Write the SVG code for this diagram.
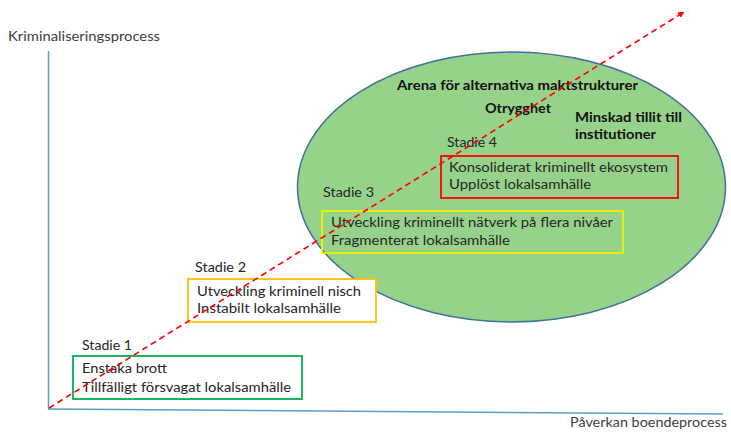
<svg xmlns="http://www.w3.org/2000/svg" width="731" height="432" viewBox="0 0 731 432">
  <style>
    text { font-family: Lato, "Liberation Sans", sans-serif; fill: #262626; }
    .lbl { font-size: 13.5px; }
    .axl { font-size: 13px; fill: #404040; }
    .bold { font-size: 12.5px; font-weight: bold; fill: #111; }
    .axis { stroke: #5B9BD5; stroke-width: 1.5; fill: none; }
    .box { stroke-width: 1.8; }
  </style>
  <defs>
    <marker id="arrow" viewBox="0 0 10 10" refX="9" refY="5" markerWidth="4" markerHeight="4" orient="auto">
      <path d="M0,0 L10,5 L0,10 z" fill="#FF0000"/>
    </marker>
  </defs>

  <g id="axes">
    <line class="axis" x1="48.5" y1="51" x2="48.5" y2="409"/>
    <line class="axis" x1="48" y1="409" x2="723" y2="414"/>
    <text class="axl" x="8" y="41" textLength="152" lengthAdjust="spacingAndGlyphs">Kriminaliseringsprocess</text>
    <text class="axl" x="570" y="427" textLength="157" lengthAdjust="spacingAndGlyphs">Påverkan boendeprocess</text>
  </g>

  <g id="arena">
    <ellipse cx="511.5" cy="187" rx="214" ry="135" fill="#97D28A" stroke="#41719C" stroke-width="1.5"/>
    <text class="bold" x="397" y="90" textLength="241" lengthAdjust="spacingAndGlyphs">Arena för alternativa maktstrukturer</text>
    <text class="bold" x="485" y="113" textLength="66" lengthAdjust="spacingAndGlyphs">Otrygghet</text>
    <text class="bold" x="575" y="122" textLength="107" lengthAdjust="spacingAndGlyphs">Minskad tillit till</text>
    <text class="bold" x="575" y="139" textLength="81" lengthAdjust="spacingAndGlyphs">institutioner</text>
  </g>

  <g id="stadie1">
    <text class="lbl" x="82" y="350" textLength="50" lengthAdjust="spacingAndGlyphs">Stadie 1</text>
    <rect class="box" x="73" y="356" width="229" height="43" fill="#FFFFFF" stroke="#00B050"/>
    <text class="lbl" x="82" y="373" textLength="85" lengthAdjust="spacingAndGlyphs">Enstaka brott</text>
    <text class="lbl" x="82" y="392" textLength="209" lengthAdjust="spacingAndGlyphs">Tillfälligt försvagat lokalsamhälle</text>
  </g>

  <g id="stadie2">
    <text class="lbl" x="195" y="272" textLength="51" lengthAdjust="spacingAndGlyphs">Stadie 2</text>
    <rect class="box" x="188" y="279" width="188" height="43" fill="#FFFFFF" stroke="#FFC000"/>
    <text class="lbl" x="197" y="296" textLength="164" lengthAdjust="spacingAndGlyphs">Utveckling kriminell nisch</text>
    <text class="lbl" x="197" y="313" textLength="144" lengthAdjust="spacingAndGlyphs">Instabilt lokalsamhälle</text>
  </g>

  <g id="stadie3">
    <text class="lbl" x="323" y="197" textLength="51" lengthAdjust="spacingAndGlyphs">Stadie 3</text>
    <rect class="box" x="322" y="211" width="301" height="42" fill="none" stroke="#F0F000"/>
    <text class="lbl" x="331" y="227" textLength="282" lengthAdjust="spacingAndGlyphs">Utveckling kriminellt nätverk på flera nivåer</text>
    <text class="lbl" x="331" y="245" textLength="179" lengthAdjust="spacingAndGlyphs">Fragmenterat lokalsamhälle</text>
  </g>

  <g id="stadie4">
    <text class="lbl" x="447" y="147" textLength="50" lengthAdjust="spacingAndGlyphs">Stadie 4</text>
    <rect class="box" x="441" y="156" width="237" height="42" fill="none" stroke="#FF0000"/>
    <text class="lbl" x="449" y="172" textLength="219" lengthAdjust="spacingAndGlyphs">Konsoliderat kriminellt ekosystem</text>
    <text class="lbl" x="449" y="189" textLength="142" lengthAdjust="spacingAndGlyphs">Upplöst lokalsamhälle</text>
  </g>

  <g id="connectors">
    <line x1="49" y1="408" x2="684" y2="12" stroke="#FF0000" stroke-width="1.6" stroke-dasharray="6,4" marker-end="url(#arrow)"/>
  </g>
</svg>
